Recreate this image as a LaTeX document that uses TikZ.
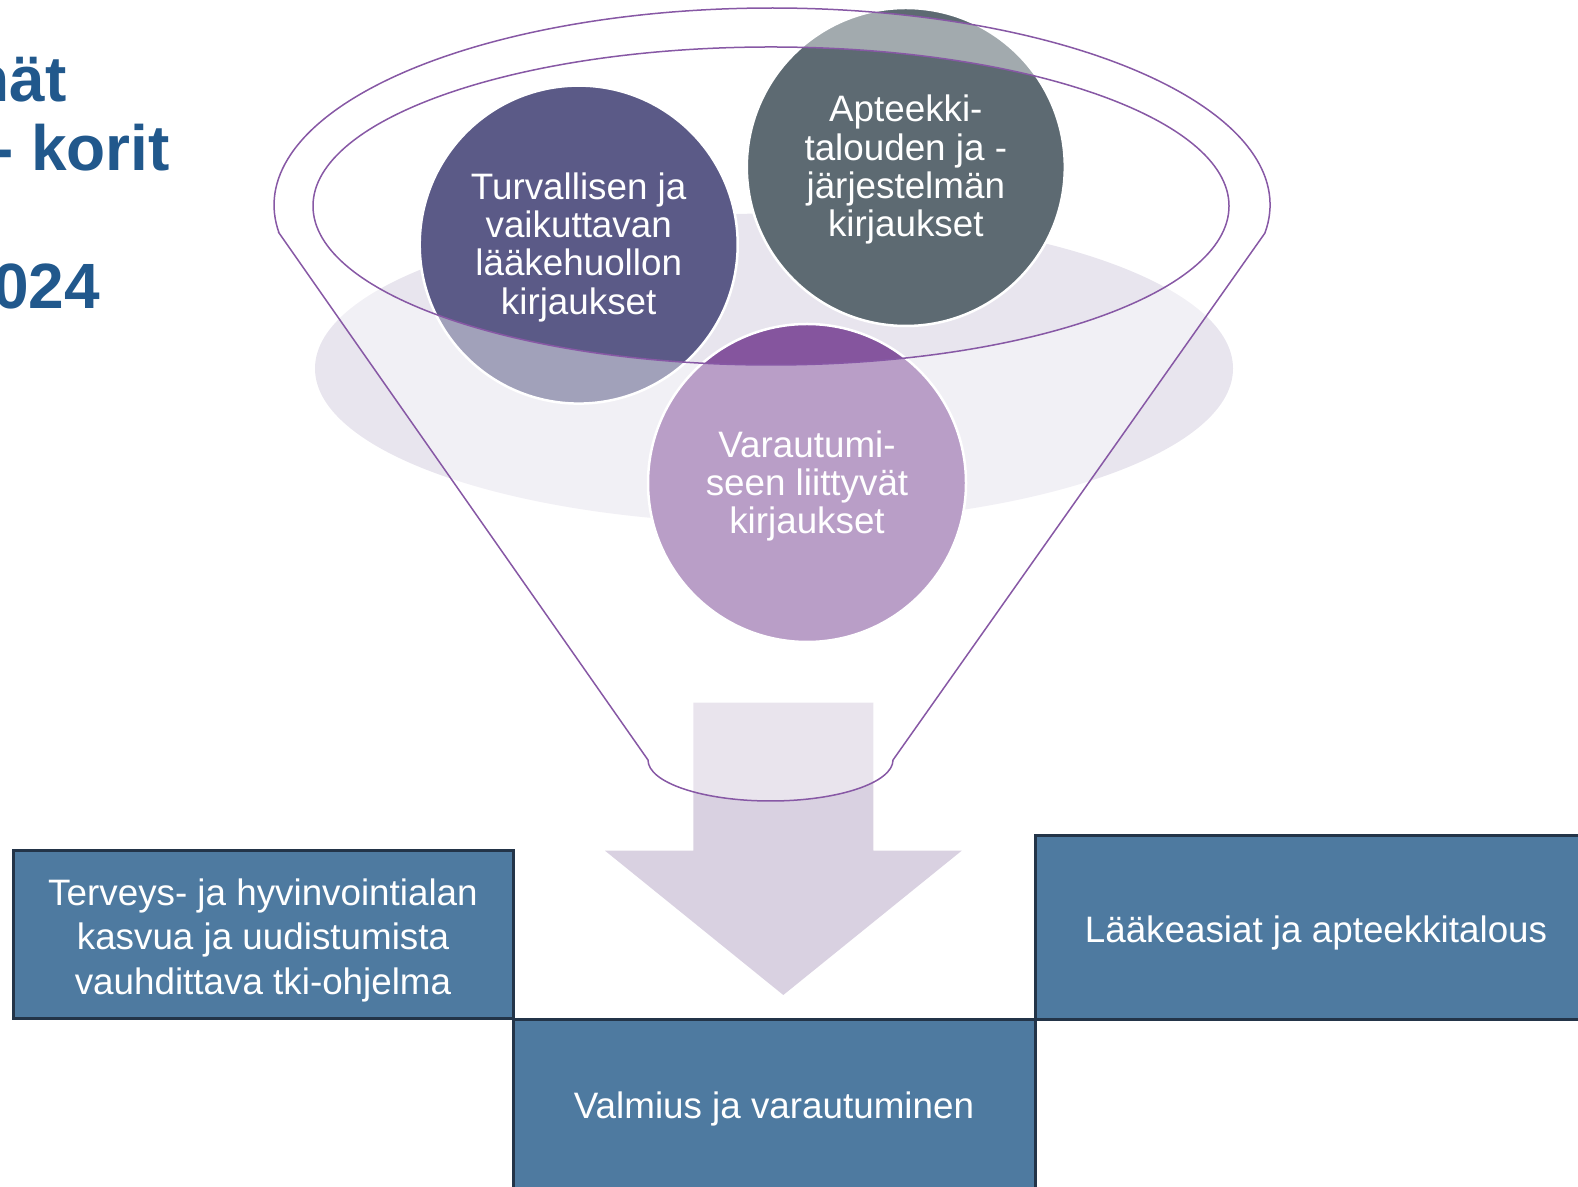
\documentclass[tikz,border=0pt]{standalone}
\usepackage{fontspec}
\setmainfont{Liberation Sans}
\usetikzlibrary{shapes}
\definecolor{titleblue}{RGB}{33,88,140}
\definecolor{turvacol}{RGB}{91,90,135}
\definecolor{talouscol}{RGB}{93,106,114}
\definecolor{varauscol}{RGB}{133,85,158}
\definecolor{shadowgrey}{RGB}{232,229,238}
\definecolor{arrowlilac}{RGB}{217,209,225}
\definecolor{rimpurple}{RGB}{135,88,165}
\definecolor{boxblue}{RGB}{78,122,160}
\definecolor{boxline}{RGB}{35,52,72}
\newcommand{\ylaraja}[1]{\rule{0pt}{#1pt}}
\tikzstyle{topic} = [circle, minimum size=318pt, inner sep=0pt, draw=white, line width=2.5pt, text=white, align=center, font=\fontsize{36.8}{38.2}\selectfont]
\tikzstyle{basket} = [rectangle, inner sep=0pt, fill=boxblue, draw=boxline, line width=3pt, text=white, align=center, font=\fontsize{36.8}{44.8}\selectfont]
\tikzstyle{heading} = [anchor=base east, inner sep=0pt, text=titleblue, font=\fontsize{64}{70}\selectfont\bfseries]
\tikzstyle{rim} = [draw=rimpurple, line width=1.5pt]
\begin{document}
\begin{tikzpicture}[x=1pt, y=1pt]
            \useasboundingbox (0,0) rectangle (1578,1186);
            % Background shapes
            \fill[shadowgrey] (774,817.5) ellipse [x radius=459, y radius=155];
            \fill[arrowlilac] (693.4,483.3) -- (873.3,483.3) -- (873.3,335.3) -- (961.7,335.3) -- (783.3,191) -- (605,335.3) -- (693.4,335.3) -- cycle;
            
            % Draw nodes
            \node (turva) [topic, fill=turvacol] at (578.7,941.4) {\ylaraja{32}Turvallisen ja\\vaikuttavan\\lääkehuollon\\kirjaukset};
            \node (talous) [topic, fill=talouscol] at (905.8,1019) {\ylaraja{32}Apteekki-\\talouden ja -\\järjestelmän\\kirjaukset};
            \node (varaus) [topic, fill=varauscol] at (807,703) {\ylaraja{33}Varautumi-\\seen liittyvät\\kirjaukset};
            
            % Funnel
            \path[fill=white, fill opacity=0.43, even odd rule] (279.1,952.9) -- (648,426) arc[start angle=180, end angle=360, x radius=122.5, y radius=41] -- (1264.9,952.9) arc[start angle=-8.2, end angle=188.2, x radius=498, y radius=197] -- cycle (771,980) ellipse [x radius=458, y radius=159];
            \draw[rim] (279.1,952.9) -- (648,426) arc[start angle=180, end angle=360, x radius=122.5, y radius=41] -- (1264.9,952.9) arc[start angle=-8.2, end angle=188.2, x radius=498, y radius=197] -- cycle;
            \draw[rim] (771,980) ellipse [x radius=458, y radius=159];
            
            % Bottom boxes
            \node (tki) [basket, minimum width=500pt, minimum height=168.3pt] at (263,251.25) {\ylaraja{38}Terveys- ja hyvinvointialan\\kasvua ja uudistumista\\vauhdittava tki-ohjelma};
            \node (laake) [basket, minimum width=562pt, minimum height=183.3pt] at (1316,258.6) {\ylaraja{37}Lääkeasiat ja apteekkitalous};
            \node (valmius) [basket, minimum width=522pt, minimum height=172pt] at (774,81) {\ylaraja{35}Valmius ja varautuminen};
            
            % Title
            \node (otsikko1) [heading] at (66.7,1084.3) {nät};
            \node (otsikko2) [heading] at (170,1015.3) {- korit};
            \node (otsikko3) [heading] at (100,877) {024};
\end{tikzpicture}
\end{document}
